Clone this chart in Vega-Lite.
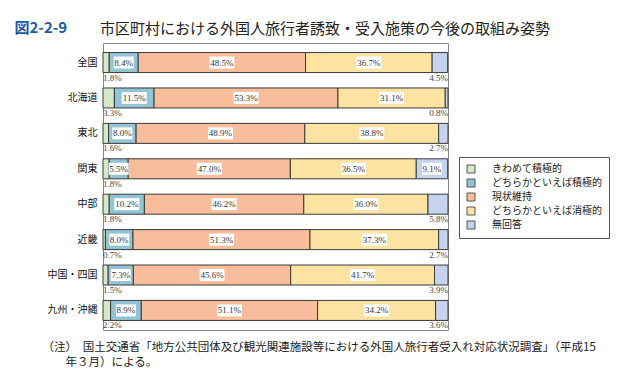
{
  "$schema": "https://vega.github.io/schema/vega-lite/v6.json",
  "autosize": {"type": "none"},
  "padding": {"left": 103, "top": 43, "right": 179, "bottom": 53},
  "width": 345,
  "height": 287,
  "background": "white",
  "title": {
    "text": "市区町村における外国人旅行者誘致・受入施策の今後の取組み姿勢",
    "anchor": "start",
    "frame": "group",
    "dx": -3,
    "dy": 25,
    "offset": 8,
    "fontSize": 15,
    "font": "Noto Sans CJK JP",
    "fontWeight": "normal",
    "color": "#222222"
  },
  "config": {
    "view": {"stroke": "#888888", "strokeWidth": 1},
    "font": "Noto Sans CJK JP"
  },
  "data": {
    "values": [
      {"region": "全国", "cat": "きわめて積極的", "v": 1.8},
      {"region": "全国", "cat": "どちらかといえば積極的", "v": 8.4},
      {"region": "全国", "cat": "現状維持", "v": 48.5},
      {"region": "全国", "cat": "どちらかといえば消極的", "v": 36.7},
      {"region": "全国", "cat": "無回答", "v": 4.5},
      {"region": "北海道", "cat": "きわめて積極的", "v": 3.3},
      {"region": "北海道", "cat": "どちらかといえば積極的", "v": 11.5},
      {"region": "北海道", "cat": "現状維持", "v": 53.3},
      {"region": "北海道", "cat": "どちらかといえば消極的", "v": 31.1},
      {"region": "北海道", "cat": "無回答", "v": 0.8},
      {"region": "東北", "cat": "きわめて積極的", "v": 1.6},
      {"region": "東北", "cat": "どちらかといえば積極的", "v": 8.0},
      {"region": "東北", "cat": "現状維持", "v": 48.9},
      {"region": "東北", "cat": "どちらかといえば消極的", "v": 38.8},
      {"region": "東北", "cat": "無回答", "v": 2.7},
      {"region": "関東", "cat": "きわめて積極的", "v": 1.8},
      {"region": "関東", "cat": "どちらかといえば積極的", "v": 5.5},
      {"region": "関東", "cat": "現状維持", "v": 47.0},
      {"region": "関東", "cat": "どちらかといえば消極的", "v": 36.5},
      {"region": "関東", "cat": "無回答", "v": 9.1},
      {"region": "中部", "cat": "きわめて積極的", "v": 1.8},
      {"region": "中部", "cat": "どちらかといえば積極的", "v": 10.2},
      {"region": "中部", "cat": "現状維持", "v": 46.2},
      {"region": "中部", "cat": "どちらかといえば消極的", "v": 36.0},
      {"region": "中部", "cat": "無回答", "v": 5.8},
      {"region": "近畿", "cat": "きわめて積極的", "v": 0.7},
      {"region": "近畿", "cat": "どちらかといえば積極的", "v": 8.0},
      {"region": "近畿", "cat": "現状維持", "v": 51.3},
      {"region": "近畿", "cat": "どちらかといえば消極的", "v": 37.3},
      {"region": "近畿", "cat": "無回答", "v": 2.7},
      {"region": "中国・四国", "cat": "きわめて積極的", "v": 1.5},
      {"region": "中国・四国", "cat": "どちらかといえば積極的", "v": 7.3},
      {"region": "中国・四国", "cat": "現状維持", "v": 45.6},
      {"region": "中国・四国", "cat": "どちらかといえば消極的", "v": 41.7},
      {"region": "中国・四国", "cat": "無回答", "v": 3.9},
      {"region": "九州・沖縄", "cat": "きわめて積極的", "v": 2.2},
      {"region": "九州・沖縄", "cat": "どちらかといえば積極的", "v": 8.9},
      {"region": "九州・沖縄", "cat": "現状維持", "v": 51.1},
      {"region": "九州・沖縄", "cat": "どちらかといえば消極的", "v": 34.2},
      {"region": "九州・沖縄", "cat": "無回答", "v": 3.6}
    ]
  },
  "transform": [
    {"calculate": "indexof(['きわめて積極的','どちらかといえば積極的','現状維持','どちらかといえば消極的','無回答'], datum.cat)", "as": "o"},
    {"window": [{"op": "sum", "field": "v", "as": "e"}], "groupby": ["region"], "sort": [{"field": "o"}], "frame": [null, 0]},
    {"calculate": "datum.e - datum.v", "as": "s"},
    {"calculate": "datum.e - datum.v / 2", "as": "m"},
    {"calculate": "format(datum.v, '.1f') + '%'", "as": "label"}
  ],
  "encoding": {
    "y": {
      "field": "region",
      "type": "nominal",
      "sort": ["全国", "北海道", "東北", "関東", "中部", "近畿", "中国・四国", "九州・沖縄"],
      "scale": {"paddingInner": 0.435, "paddingOuter": 0.27},
      "axis": {
        "title": "図2-2-9",
        "titleAngle": 0,
        "titleX": -89,
        "titleY": -16,
        "titleAlign": "left",
        "titleBaseline": "middle",
        "titleFontSize": 15,
        "titleFontWeight": "bold",
        "titleColor": "#1a5c9e",
        "domain": false,
        "ticks": false,
        "labelPadding": 6,
        "labelFontSize": 10,
        "labelColor": "#111111",
        "labelFont": "Noto Sans CJK JP"
      }
    }
  },
  "layer": [
    {
      "mark": {"type": "bar", "stroke": "#3a3a3a", "strokeWidth": 1},
      "encoding": {
        "x": {
          "field": "s",
          "type": "quantitative",
          "scale": {"domain": [0, 100], "nice": false, "zero": true},
          "axis": {
            "labels": false,
            "ticks": false,
            "domain": false,
            "grid": false,
            "title": ["（注）　国土交通省「地方公共団体及び観光関連施設等における外国人旅行者受入れ対応状況調査」（平成15", "\u200b　　年３月）による。"],
            "titleX": -61,
            "titleY": 11,
            "titleAlign": "left",
            "titleAnchor": "start",
            "titleBaseline": "top",
            "titleFontSize": 11.5,
            "titleFontWeight": "normal",
            "titleLineHeight": 15,
            "titleColor": "#222222",
            "titleFont": "Noto Sans CJK JP"
          }
        },
        "x2": {"field": "e"},
        "color": {
          "field": "cat",
          "type": "nominal",
          "scale": {
            "domain": ["きわめて積極的", "どちらかといえば積極的", "現状維持", "どちらかといえば消極的", "無回答"],
            "range": ["#d4e9c6", "#93c4d6", "#f8bd9a", "#fde3a2", "#c6d3ee"]
          },
          "legend": {
            "title": null,
            "orient": "none",
            "legendX": 356,
            "legendY": 114,
            "strokeColor": "#555555",
            "padding": 7,
            "symbolType": "square",
            "symbolSize": 64,
            "symbolStrokeColor": "#555555",
            "symbolStrokeWidth": 1,
            "symbolOpacity": 1,
            "labelFontSize": 10,
            "labelFont": "Noto Sans CJK JP",
            "labelColor": "#222222",
            "labelOffset": 16,
            "rowPadding": 2,
            "labelLimit": 200
          }
        }
      }
    },
    {
      "transform": [
        {"filter": "(datum.o >= 1 && datum.o <= 3) || (datum.o == 4 && datum.v > 9)"},
        {"filter": "length(datum.label) == 4"}
      ],
      "mark": {"type": "point", "shape": "M-1,-0.6H1V0.6H-1Z", "size": 400, "filled": true, "color": "white", "opacity": 1},
      "encoding": {"x": {"field": "m", "type": "quantitative"}}
    },
    {
      "transform": [
        {"filter": "(datum.o >= 1 && datum.o <= 3) || (datum.o == 4 && datum.v > 9)"},
        {"filter": "length(datum.label) == 5"}
      ],
      "mark": {"type": "point", "shape": "M-1,-0.48H1V0.48H-1Z", "size": 625, "filled": true, "color": "white", "opacity": 1},
      "encoding": {"x": {"field": "m", "type": "quantitative"}}
    },
    {
      "transform": [
        {"filter": "(datum.o >= 1 && datum.o <= 3) || (datum.o == 4 && datum.v > 9)"}
      ],
      "mark": {"type": "text", "font": "Liberation Serif", "fontSize": 9, "color": "#333333", "baseline": "middle", "align": "center"},
      "encoding": {"x": {"field": "m", "type": "quantitative"}, "text": {"field": "label"}}
    },
    {
      "transform": [{"filter": "datum.o == 0"}],
      "mark": {"type": "text", "font": "Liberation Serif", "fontSize": 9, "color": "#444444", "baseline": "middle", "align": "left", "yOffset": 15},
      "encoding": {"x": {"datum": 0}, "text": {"field": "label"}}
    },
    {
      "transform": [{"filter": "datum.o == 4 && datum.v < 9"}],
      "mark": {"type": "text", "font": "Liberation Serif", "fontSize": 9, "color": "#444444", "baseline": "middle", "align": "right", "yOffset": 15},
      "encoding": {"x": {"datum": 100}, "text": {"field": "label"}}
    }
  ]
}
